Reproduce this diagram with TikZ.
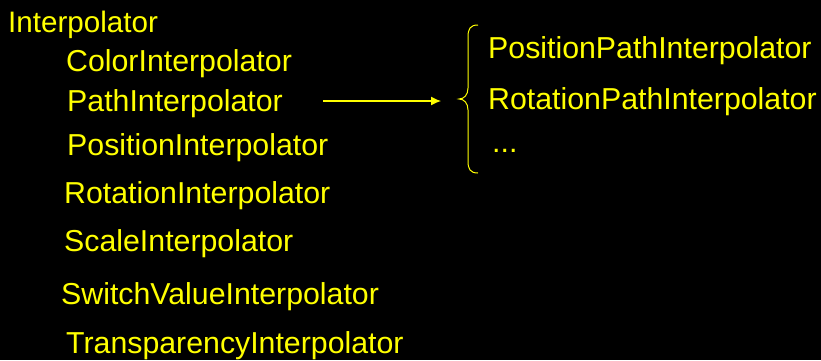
\documentclass[tikz,border=0pt]{standalone}
\usepackage{fontspec}
\setmainfont{Liberation Sans}
\usetikzlibrary{arrows.meta}
\definecolor{txtyellow}{RGB}{255,255,0}
\begin{document}
\begin{tikzpicture}[x=1pt,y=-1pt,
  lbl/.style={anchor=base west,inner sep=0pt,text=txtyellow,font=\fontsize{30.3}{36}\selectfont},
  conn/.style={draw=txtyellow,line width=1.2pt}]
\fill[black] (0,0) rectangle (821,360);
\useasboundingbox (0,0) rectangle (821,360);
\node[lbl,font=\fontsize{29.6}{36}\selectfont] (interp) at (8,32) {Interpolator};
\node[lbl] (color) at (66,71) {ColorInterpolator};
\node[lbl] (path) at (67,111) {PathInterpolator};
\node[lbl] (pos) at (67,155) {PositionInterpolator};
\node[lbl] (rot) at (64,203) {RotationInterpolator};
\node[lbl] (scale) at (64,251) {ScaleInterpolator};
\node[lbl] (switch) at (61,304) {SwitchValueInterpolator};
\node[lbl] (transp) at (66,353) {TransparencyInterpolator};
\node[lbl] (pospath) at (488,58) {PositionPathInterpolator};
\node[lbl] (rotpath) at (488,109) {RotationPathInterpolator};
\node[lbl] (dots) at (492,152) {...};
\coordinate (astart) at (323,101);
\coordinate (aend) at (441,101);
\draw[conn,-{Latex[length=10pt,width=9pt]}] (astart) -- (aend);
\coordinate (btop) at (478,25);
\coordinate (btip) at (459,99);
\coordinate (bbot) at (478,173);
\draw[conn,line width=1pt] (btop) .. controls (470,25) and (468,29) .. (468,37)
  -- (468,88) .. controls (468,95) and (464,99) .. (btip)
  .. controls (464,99) and (468,103) .. (468,110)
  -- (468,161) .. controls (468,169) and (470,173) .. (bbot);
\end{tikzpicture}
\end{document}
